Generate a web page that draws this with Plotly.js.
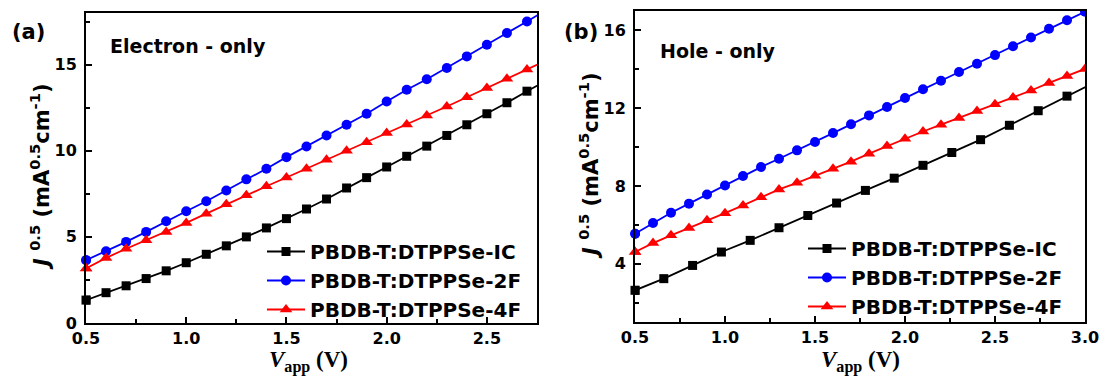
<!DOCTYPE html>
<html><head><meta charset="utf-8">
<script src="https://cdn.plot.ly/plotly-3.0.1.min.js"></script>
<style>html,body{margin:0;padding:0;background:#fff}#chart{width:1102px;height:378px}</style>
</head><body><div id="chart"></div>
<script>
// ---------- data ----------
const seriesNames = ['PBDB-T:DTPPSe-IC', 'PBDB-T:DTPPSe-2F', 'PBDB-T:DTPPSe-4F'];

// (a) Electron-only
const xA = [0.5,0.6,0.7,0.8,0.9,1.0,1.1,1.2,1.3,1.4,1.5,1.6,1.7,1.8,1.9,2.0,2.1,2.2,2.3,2.4,2.5,2.6,2.7,2.8];
const aIC = [1.33,1.76,2.16,2.58,3.03,3.5,3.99,4.48,5.0,5.52,6.06,6.62,7.2,7.84,8.44,9.06,9.68,10.27,10.89,11.51,12.15,12.79,13.46,14.1];
const a2F = [3.65,4.17,4.71,5.29,5.91,6.49,7.07,7.69,8.34,8.96,9.63,10.25,10.89,11.51,12.15,12.86,13.54,14.15,14.81,15.48,16.16,16.84,17.51,18.2];
const a4F = [3.17,3.78,4.31,4.81,5.29,5.81,6.35,6.89,7.42,7.94,8.45,8.96,9.48,10.0,10.5,11.03,11.53,12.05,12.57,13.11,13.65,14.18,14.72,15.26];

// (b) Hole-only
const xB = [0.5,0.6,0.7,0.8,0.9,1.0,1.1,1.2,1.3,1.4,1.5,1.6,1.7,1.8,1.9,2.0,2.1,2.2,2.3,2.4,2.5,2.6,2.7,2.8,2.9,3.0];
const xBIC = [0.5,0.66,0.82,0.98,1.14,1.30,1.46,1.62,1.78,1.94,2.10,2.26,2.42,2.58,2.74,2.90,3.06];
const bIC = [2.63,3.23,3.91,4.6,5.2,5.85,6.48,7.12,7.77,8.4,9.06,9.72,10.38,11.12,11.87,12.62,13.35];
const b2F = [5.54,6.09,6.62,7.09,7.56,8.02,8.51,8.97,9.4,9.83,10.26,10.72,11.17,11.63,12.06,12.52,12.97,13.41,13.86,14.29,14.73,15.19,15.64,16.09,16.52,16.96];
const b4F = [4.6,5.06,5.46,5.83,6.23,6.6,7.0,7.42,7.82,8.16,8.52,8.88,9.25,9.66,10.05,10.43,10.8,11.15,11.5,11.86,12.2,12.55,12.91,13.3,13.66,14.02];

const panelLabels = ['(a)', '(b)'];
const panelNotes = ['Electron - only', 'Hole - only'];

// ---------- styling ----------
const colors = ['#000000', '#0000ff', '#ff0000'];
const symbols = ['square', 'circle', 'triangle-up'];
const msizes = [9, 10, 11];
const SANS = 'DejaVu Sans';

function series(x, y, i, xa, ya, leg) {
  const mk = {symbol: symbols[i], size: msizes[i], color: colors[i], line: {width: 0}};
  return [
    {x: x, y: y, xaxis: xa, yaxis: ya, mode: 'lines+markers', name: seriesNames[i],
     legend: leg, line: {color: colors[i], width: 1.8}, marker: mk},
    {x: [x[0]], y: [y[0]], xaxis: xa, yaxis: ya, mode: 'markers', showlegend: false,
     cliponaxis: false, marker: mk, hoverinfo: 'skip'}
  ];
}

const traces = [].concat(
  series(xA, aIC, 0, 'x', 'y', 'legend'),
  series(xA, a2F, 1, 'x', 'y', 'legend'),
  series(xA, a4F, 2, 'x', 'y', 'legend'),
  series(xBIC, bIC, 0, 'x2', 'y2', 'legend2'),
  series(xB, b2F, 1, 'x2', 'y2', 'legend2'),
  series(xB, b4F, 2, 'x2', 'y2', 'legend2')
);

function axis(extra) {
  return Object.assign({
    showline: true, linecolor: '#000', linewidth: 2, mirror: true,
    ticks: 'inside', ticklen: 6, tickwidth: 2, tickcolor: '#000',
    showgrid: false, zeroline: false, fixedrange: true,
    tickfont: {family: SANS, size: 16, weight: 'bold', color: '#000'},
    ticklabelstandoff: 4
  }, extra);
}
const minor = (d) => ({dtick: d, ticks: 'inside', ticklen: 4, tickwidth: 2, tickcolor: '#000', showgrid: false});

const legendStyle = {
  xanchor: 'left', yanchor: 'top', bgcolor: 'rgba(0,0,0,0)', borderwidth: 0, itemwidth: 38,
  font: {family: SANS, size: 20, weight: 'bold', color: '#000'}, tracegroupgap: 0
};

const W = 1102, H = 378;
const px = v => v / W, py = v => 1 - v / H;

const yTitle = '<i>J</i> <sup>0.5</sup> (mA<sup>0.5</sup>cm<sup>-1</sup>)';
const xTitle = '<i>V</i><sub>app</sub> (V)';

const annotations = [
  {text: '<b>' + panelLabels[0] + '</b>', x: px(10), y: py(32), xanchor: 'left', yanchor: 'middle', font: {family: SANS, size: 21, weight: 'bold', color: '#000'}},
  {text: '<b>' + panelLabels[1] + '</b>', x: px(562), y: py(32), xanchor: 'left', yanchor: 'middle', font: {family: SANS, size: 21, weight: 'bold', color: '#000'}},
  {text: '<b>' + panelNotes[0] + '</b>', x: px(108), y: py(46), xanchor: 'left', yanchor: 'middle', font: {family: SANS, size: 19, weight: 'bold', color: '#000'}},
  {text: '<b>' + panelNotes[1] + '</b>', x: px(658), y: py(51), xanchor: 'left', yanchor: 'middle', font: {family: SANS, size: 19, weight: 'bold', color: '#000'}},
  {text: '<b>' + yTitle + '</b>', textangle: -90, x: px(40), y: py(177), xanchor: 'center', yanchor: 'middle', font: {family: SANS, size: 21, weight: 'bold', color: '#000'}},
  {text: '<b>' + yTitle + '</b>', textangle: -90, x: px(589), y: py(166), xanchor: 'center', yanchor: 'middle', font: {family: SANS, size: 21, weight: 'bold', color: '#000'}},
  {text: '<b>' + xTitle + '</b>', x: px(308), y: 0, xanchor: 'center', yanchor: 'bottom', font: {family: 'Liberation Serif', size: 23, weight: 'bold', color: '#000'}},
  {text: '<b>' + xTitle + '</b>', x: px(860), y: 0, xanchor: 'center', yanchor: 'bottom', font: {family: 'Liberation Serif', size: 23, weight: 'bold', color: '#000'}}
].map(a => Object.assign({xref: 'paper', yref: 'paper', showarrow: false}, a));

const layout = {
  width: W, height: H,
  margin: {l: 0, r: 0, t: 0, b: 0, pad: 0},
  paper_bgcolor: '#fff', plot_bgcolor: '#fff',
  xaxis: axis({domain: [px(86), px(537)], range: [0.5, 2.75], tick0: 0.5, dtick: 0.5, tickformat: '.1f', minor: minor(0.25), anchor: 'y', ticklabelstandoff: 0}),
  yaxis: axis({domain: [py(323), py(13)], range: [0, 18], tick0: 0, dtick: 5, minor: minor(2.5), anchor: 'x'}),
  xaxis2: axis({domain: [px(635), px(1085)], range: [0.5, 3.0], tick0: 0.5, dtick: 0.5, tickformat: '.1f', minor: minor(0.25), anchor: 'y2', ticklabelstandoff: 0}),
  yaxis2: axis({domain: [py(322), py(11)], range: [1, 17], tick0: 0, dtick: 4, minor: minor(2), anchor: 'x2'}),
  legend: Object.assign({x: px(262), y: py(232)}, legendStyle),
  legend2: Object.assign({x: px(803), y: py(229)}, legendStyle),
  annotations: annotations,
  showlegend: true
};

Plotly.newPlot('chart', traces, layout, {staticPlot: true, displayModeBar: false});
</script>
</body></html>
